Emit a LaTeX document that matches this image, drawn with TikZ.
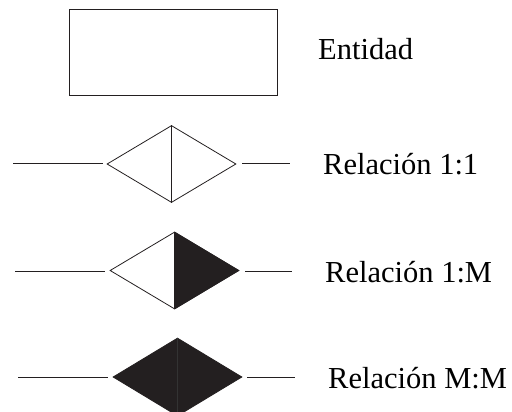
\documentclass[tikz,border=0pt]{standalone}
\usepackage{fontspec}
\setmainfont{Liberation Serif}
\usetikzlibrary{shapes.geometric}
\definecolor{ink}{HTML}{231F20}
\begin{document}
\begin{tikzpicture}[x=1pt,y=-1pt,
  edge/.style={draw=ink,line width=0.8pt},
  rel/.style={diamond,draw=ink,line width=0.8pt,inner sep=0pt,minimum width=129pt,minimum height=77pt},
  lab/.style={anchor=base west,inner sep=0pt,font=\fontsize{30.5}{34}\selectfont,text=black}]
\useasboundingbox (0,0) rectangle (512,412);
% entity
\node[draw=ink,line width=0.8pt,minimum width=208pt,minimum height=86pt,inner sep=0pt] (ent) at (173,52) {};
\node[lab] (tent) at (318,60) {Entidad};
% 1:1
\node[rel] (d1) at (171.5,164) {};
\draw[edge] (d1.north) -- (d1.south);
\coordinate (a1) at (13,163); \coordinate (a1e) at (103,163);
\coordinate (b1) at (242,163); \coordinate (b1e) at (290,163);
\draw[edge] (a1) -- (a1e);
\draw[edge] (b1) -- (b1e);
\node[lab] (t1) at (323,175) {Relación 1:1};
% 1:M
\node[rel] (d2) at (174.5,270.5) {};
\fill[ink] (d2.north) -- (d2.east) -- (d2.south) -- cycle;
\draw[edge] (d2.north) -- (d2.south);
\coordinate (a2) at (15,271); \coordinate (a2e) at (105,271);
\coordinate (b2) at (245,271); \coordinate (b2e) at (292,271);
\draw[edge] (a2) -- (a2e);
\draw[edge] (b2) -- (b2e);
\node[lab] (t2) at (325,282) {Relación 1:M};
% M:M
\node[rel,fill=ink,minimum height=78pt] (d3) at (177.5,377) {};
\draw[draw=black!80,line width=0.6pt] (d3.north) -- (d3.south);
\coordinate (a3) at (18,377); \coordinate (a3e) at (108,377);
\coordinate (b3) at (247,377); \coordinate (b3e) at (295,377);
\draw[edge] (a3) -- (a3e);
\draw[edge] (b3) -- (b3e);
\node[lab] (t3) at (328,388) {Relación M:M};
\end{tikzpicture}
\end{document}
